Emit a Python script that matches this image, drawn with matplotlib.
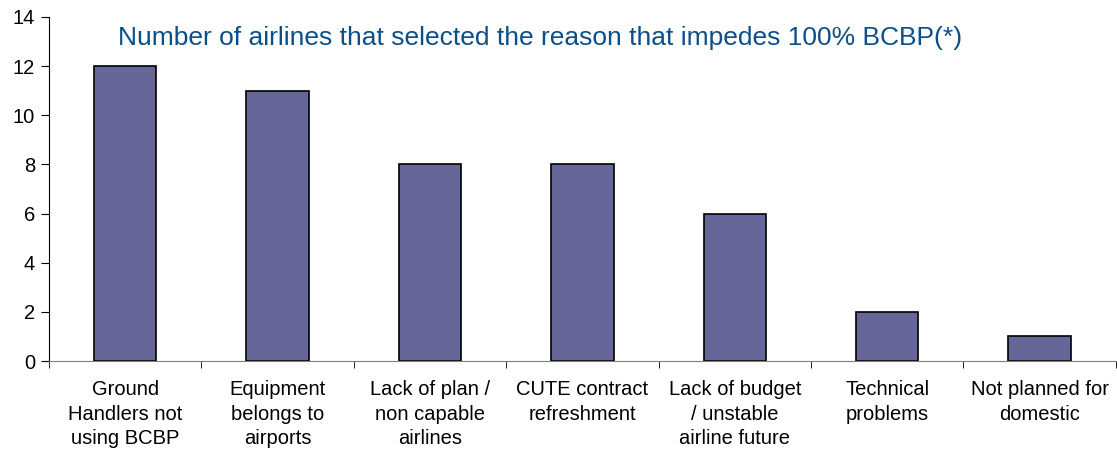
import numpy as np
import matplotlib.pyplot as plt

plt.rcParams['font.family'] = ['Liberation Sans', 'DejaVu Sans']

reasons = ['Ground\nHandlers not\nusing BCBP',
           'Equipment\nbelongs to\nairports',
           'Lack of plan /\nnon capable\nairlines',
           'CUTE contract\nrefreshment',
           'Lack of budget\n/ unstable\nairline future',
           'Technical\nproblems',
           'Not planned for\ndomestic']
airlines = [12, 11, 8, 8, 6, 2, 1]

x = np.arange(len(reasons))

fig = plt.figure(figsize=(11.17, 4.57), dpi=100)
ax = fig.add_axes([0.0439, 0.21, 0.955, 0.753])

ax.bar(x, airlines, 0.41, color='#666699', edgecolor='black', linewidth=1.2)

ax.set_xlim(-0.5, len(reasons) - 0.5)
ax.set_ylim(0, 14)
ax.set_yticks(range(0, 15, 2))
ax.tick_params(axis='y', labelsize=14.5, length=6, direction='out', pad=4)

# category labels under the bars, tick marks on the boundaries
ax.set_xticks(x)
ax.set_xticklabels(reasons, fontsize=14.5, linespacing=1.36, va='top')
ax.tick_params(axis='x', which='major', length=0, pad=14)
ax.set_xticks(np.arange(-0.5, len(reasons)), minor=True)
ax.tick_params(axis='x', which='minor', length=5, direction='out')

ax.spines['top'].set_visible(False)
ax.spines['right'].set_visible(False)
ax.spines['bottom'].set_color('#808080')

ax.text(2.72, 13.15, 'Number of airlines that selected the reason that impedes 100% BCBP(*)',
        ha='center', va='center', fontsize=19, color='#0b4f8a')

fig.savefig('out.png', dpi=100)
